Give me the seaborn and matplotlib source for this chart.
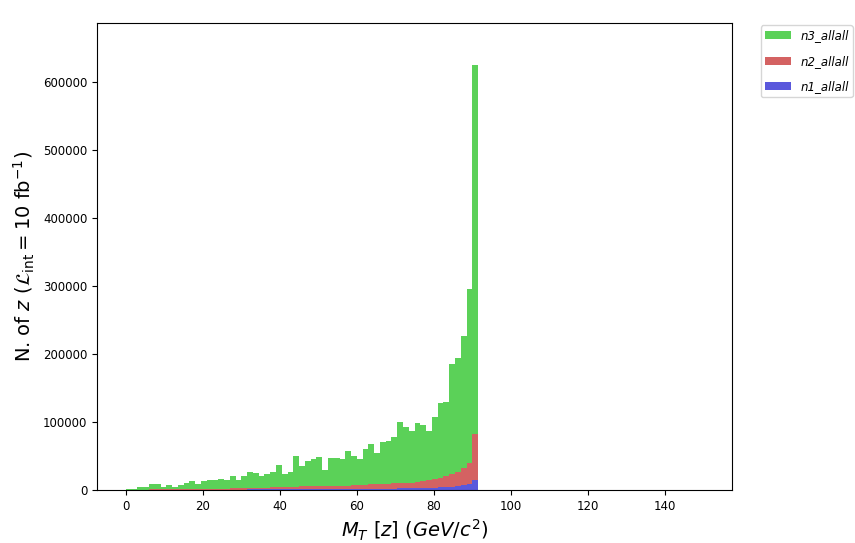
import numpy as np
import pandas as pd
import matplotlib
matplotlib.use("Agg")
import matplotlib.pyplot as plt
import seaborn as sns

# Bin edges: 100 bins from 0 to 150 GeV
bin_lo, bin_hi, n_bins = 0.0, 150.0, 100

# Stacked totals (n1+n2+n3) for first 61 bins
total = [1500, 2000, 4000, 4500, 9000, 9000, 5000, 7000, 4000, 7000,
         10000, 13000, 9000, 13000, 15000, 14000, 16000, 15000, 20000, 14000,
         21000, 27000, 25000, 20000, 23500, 27000, 37000, 23500, 27000, 50000,
         36000, 43000, 45000, 49000, 30000, 47000, 47000, 45000, 57000, 50000,
         46000, 60000, 67000, 54000, 70000, 72500, 78000, 100000, 93000, 87000,
         98000, 95000, 87000, 107000, 128000, 130000, 185000, 194000, 226000, 296000,
         625000]
# Stacked n1+n2
red_top = [200, 300, 500, 600, 800, 900, 1000, 1000, 1100, 1200,
           1300, 1500, 1500, 1700, 1800, 2000, 2000, 2200, 2400, 2500,
           2800, 3000, 3200, 3300, 3500, 3800, 4000, 4200, 4500, 5000,
           6000, 6500, 6000, 5500, 5500, 5800, 6000, 6500, 6500, 6800,
           7000, 8000, 8500, 9000, 9500, 9500, 10000, 10000, 10500, 11000,
           12000, 13000, 14500, 16000, 18000, 20000, 23000, 27000, 32000, 40000,
           83000]
# n1
n1_vals = [100, 100, 150, 150, 200, 200, 250, 250, 300, 300,
           350, 400, 400, 450, 500, 550, 600, 600, 650, 700,
           700, 750, 800, 800, 850, 900, 900, 950, 1000, 1000,
           1000, 1100, 1200, 1200, 1300, 1300, 1400, 1400, 1500, 1500,
           1600, 1700, 1800, 1900, 2000, 2100, 2200, 2300, 2400, 2500,
           2700, 2900, 3100, 3400, 3800, 4300, 5000, 5800, 7000, 8500,
           15000]
# tail beyond the Z peak (n3 only, tiny)
tail_n3 = [500] + [200] * 38

n2_vals = [r - b for r, b in zip(red_top, n1_vals)] + [0] * 39
n3_vals = [t - r for t, r in zip(total, red_top)] + tail_n3
n1_vals = n1_vals + [0] * 39

series = ["n3_allall", "n2_allall", "n1_allall"]
colors = {"n3_allall": "#5bd158", "n2_allall": "#d46262", "n1_allall": "#5a58dc"}

width = (bin_hi - bin_lo) / n_bins
centers = [bin_lo + width * (i + 0.5) for i in range(n_bins)]

rows = []
for name, vals in zip(series, [n3_vals, n2_vals, n1_vals]):
    for c, v in zip(centers, vals):
        rows.append({"mt": c, "w": float(v), "series": name})
df = pd.DataFrame(rows)

fig = plt.figure(figsize=(8.55, 5.43), dpi=100)
ax = fig.add_axes([0.1135, 0.0976, 0.7427, 0.86])

sns.histplot(data=df, x="mt", weights="w", hue="series", hue_order=series,
             multiple="stack", bins=n_bins, binrange=(bin_lo, bin_hi),
             palette=colors, alpha=1, linewidth=0, ax=ax)

ax.set_xlim(-7.5, 157.5)
ax.set_ylim(0, 687000)
ax.set_xticks([0, 20, 40, 60, 80, 100, 120, 140])
ax.set_yticks([0, 100000, 200000, 300000, 400000, 500000, 600000])
ax.tick_params(labelsize=8.5)
ax.set_xlabel(r"$M_T\ [z]\ (GeV/c^2)$", fontsize=14)
ax.set_ylabel(r"N. of $z$ ($\mathcal{L}_{\rm int} = 10$ fb$^{-1}$)", fontsize=14)

sns.move_legend(ax, "upper left", bbox_to_anchor=(1.045, 0.995), borderaxespad=0.,
                title=None, fontsize=8.5, frameon=True, labelspacing=1.05,
                handlelength=2.2, borderpad=0.35)
leg = ax.get_legend()
for t in leg.get_texts():
    t.set_fontstyle("italic")

fig.savefig("out.png", dpi=100)
